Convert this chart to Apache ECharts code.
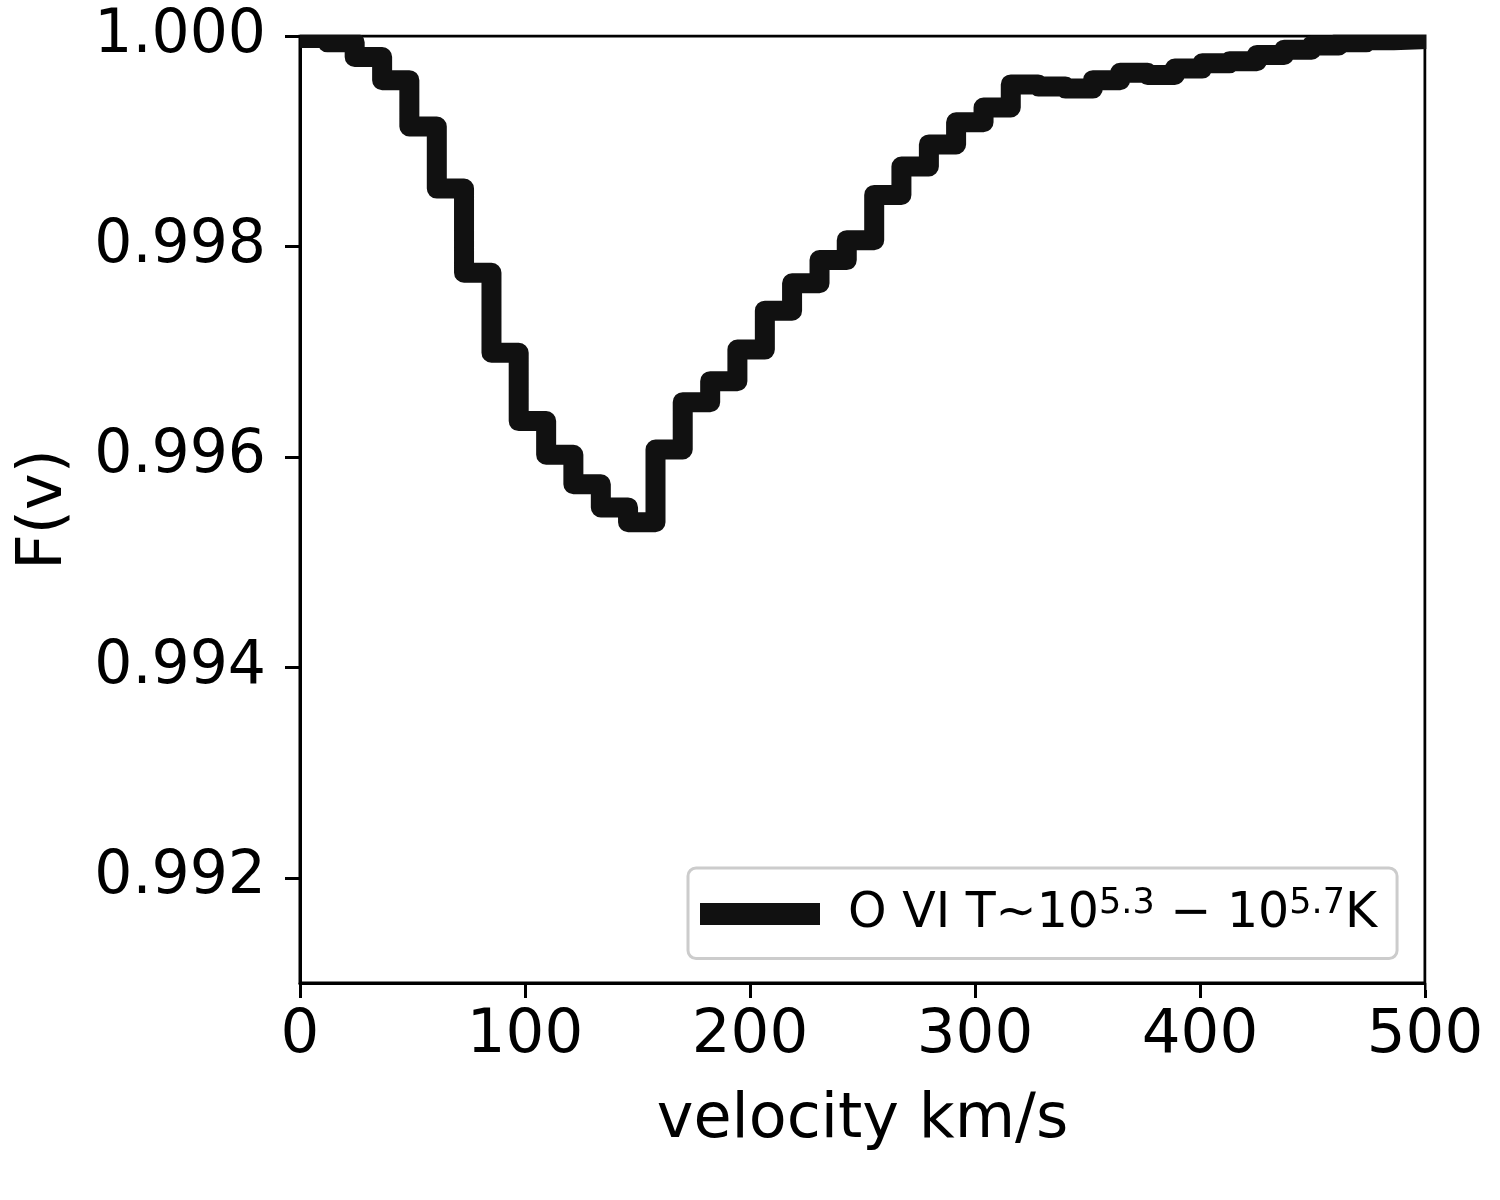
<!DOCTYPE html>
<html>
<head>
<meta charset="utf-8">
<title>O VI F(v)</title>
<script src="https://cdn.jsdelivr.net/npm/echarts@6/dist/echarts.min.js"></script>
<style>
  html, body { margin: 0; padding: 0; background: #fff; }
  #chart { width: 1500px; height: 1200px; }
</style>
</head>
<body>
<div id="chart"></div>
<script>
// bin edges (km/s), one more than the flux values
const velocity = [0, 12.2, 24.3, 36.5, 48.6, 60.8, 72.9, 85.1, 97.2, 109.4, 121.5,
  133.7, 145.8, 158.0, 170.1, 182.3, 194.4, 206.6, 218.7, 230.9, 243.0,
  255.2, 267.3, 279.5, 291.6, 303.8, 315.9, 328.1, 340.2, 352.4, 364.5,
  376.7, 388.8, 401.0, 413.1, 425.3, 437.4, 449.6, 461.7, 473.9, 486.0,
  498.2, 510.3];
// normalised flux per bin
const flux = [0.99998, 0.99994, 0.99980, 0.99958, 0.99914, 0.99855, 0.99775,
  0.99699, 0.99634, 0.99602, 0.99574, 0.99552, 0.99538, 0.99607, 0.99652,
  0.99672, 0.99702, 0.99739, 0.99765, 0.99787, 0.99806, 0.99849, 0.99876,
  0.99897, 0.99918, 0.99932, 0.99954, 0.99952, 0.99950, 0.99958, 0.99965,
  0.99963, 0.99969, 0.99974, 0.99976, 0.99982, 0.99987, 0.99991, 0.99994,
  0.99996, 0.99997, 0.99998];
const yTicks = [0.992, 0.994, 0.996, 0.998, 1.000];
const seriesName = 'O VI';

const font = 'DejaVu Sans';
const chart = echarts.init(document.getElementById('chart'));

// steps: each bin holds its value up to the next edge
const points = velocity.map((v, i) => [v, flux[Math.min(i, flux.length - 1)]]);

const option = {
  animation: false,
  backgroundColor: '#fff',
  textStyle: { fontFamily: font },
  grid: {
    left: 300,
    right: 75,
    top: 36,
    bottom: 217,
    show: true,
    borderColor: '#000',
    borderWidth: 3
  },
  legend: {
    left: 688,
    top: 868,
    icon: 'rect',
    itemWidth: 120,
    itemHeight: 22,
    padding: [18, 20, 20, 12],
    borderColor: '#cccccc',
    borderWidth: 3,
    borderRadius: 8,
    backgroundColor: '#fff',
    formatter: () => '{a|O VI T∼10}{s|5.3}{n| − 10}{s|5.7}{n|K}',
    textStyle: {
      fontFamily: font,
      color: '#000',
      rich: {
        a: { fontFamily: font, fontSize: 49, color: '#000', lineHeight: 56, padding: [0, 0, 0, 23] },
        n: { fontFamily: font, fontSize: 49, color: '#000', lineHeight: 56 },
        s: { fontFamily: font, fontSize: 35, color: '#000', lineHeight: 32, verticalAlign: 'top' }
      }
    },
    data: [seriesName]
  },
  xAxis: {
    type: 'value',
    min: 0,
    max: 500,
    interval: 100,
    name: 'velocity km/s',
    nameLocation: 'middle',
    nameGap: 107,
    nameTextStyle: { fontFamily: font, fontSize: 62, color: '#000' },
    axisLine: { show: true, lineStyle: { color: '#000', width: 3 } },
    axisTick: { show: true, length: 15, lineStyle: { color: '#000', width: 3 } },
    axisLabel: { fontFamily: font, fontSize: 61, color: '#000', margin: 23 },
    splitLine: { show: false }
  },
  yAxis: {
    type: 'value',
    min: 0.991,
    max: 1.0,
    name: 'F(v)',
    nameLocation: 'middle',
    nameGap: 224,
    nameTextStyle: { fontFamily: font, fontSize: 62, color: '#000' },
    axisLine: { show: true, lineStyle: { color: '#000', width: 3 } },
    axisTick: { show: true, length: 15, customValues: yTicks, lineStyle: { color: '#000', width: 3 } },
    axisLabel: {
      fontFamily: font, fontSize: 60, color: '#000', margin: 34,
      customValues: yTicks,
      formatter: v => v.toFixed(3)
    },
    splitLine: { show: false }
  },
  // white strips hide the stroke where it runs past the frame
  graphic: [
    { type: 'rect', z: 100, shape: { x: 290, y: 0, width: 1210, height: 34.5 }, style: { fill: '#fff' } },
    { type: 'rect', z: 100, shape: { x: 1426.5, y: 0, width: 73.5, height: 990 }, style: { fill: '#fff' } }
  ],
  series: [{
    name: seriesName,
    type: 'line',
    step: 'end',
    data: points,
    showSymbol: false,
    color: '#111111',
    itemStyle: { color: '#111111' },
    lineStyle: { color: '#111111', width: 20, join: 'round', cap: 'butt' }
  }]
};

chart.setOption(option);
</script>
</body>
</html>
